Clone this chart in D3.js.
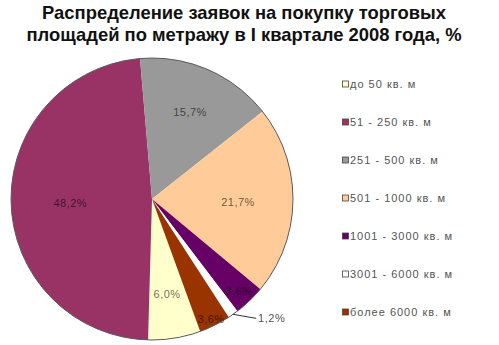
<!DOCTYPE html>
<html>
<head>
<meta charset="utf-8">
<script src="https://cdn.jsdelivr.net/npm/d3@7/dist/d3.min.js"></script>
<style>
  html, body { margin: 0; padding: 0; background: #fff; }
  svg { display: block; }
</style>
</head>
<body>
<svg id="chart" width="499" height="345"></svg>
<script>
// Request shares by floor area, Q1 2008
const categories = [
  "до 50 кв. м",
  "51 - 250 кв. м",
  "251 - 500 кв. м",
  "501 - 1000 кв. м",
  "1001 - 3000 кв. м",
  "3001 - 6000 кв. м",
  "более 6000 кв. м"
];
const shares = [6.0, 48.2, 15.7, 21.7, 3.6, 1.2, 3.6];
const colors = ["#FFFFCC", "#993366", "#999999", "#FFCC99", "#660066", "#FFFFFF", "#993300"];
const titleLines = [
  "Распределение заявок на покупку торговых",
  "площадей по метражу в I квартале 2008 года, %"
];

const svg = d3.select("#chart");
const fmt = v => v.toFixed(1).replace(".", ",") + "%";
const FONT = "Liberation Sans, Arial, sans-serif";

// Title
svg.append("g").selectAll("text")
  .data(titleLines)
  .join("text")
  .attr("x", 244)
  .attr("y", (d, i) => 19 + i * 22)
  .attr("text-anchor", "middle")
  .attr("font-family", FONT)
  .attr("font-weight", "bold")
  .attr("font-size", 18.4)
  .attr("fill", "#111")
  .text(d => d);

// Pie
const cx = 152, cy = 199, r = 141;
const startAngle = 160 * Math.PI / 180;
const pie = d3.pie()
  .sort(null)
  .value(d => d)
  .startAngle(startAngle)
  .endAngle(startAngle + 2 * Math.PI);
const arcs = pie(shares);
const arc = d3.arc().innerRadius(0).outerRadius(r);

const g = svg.append("g").attr("transform", `translate(${cx},${cy})`);
g.selectAll("path.slice")
  .data(arcs)
  .join("path")
  .attr("class", "slice")
  .attr("d", arc)
  .attr("fill", (d, i) => colors[i]);

g.append("circle")
  .attr("r", r)
  .attr("fill", "none")
  .attr("stroke", "#5a5a5a")
  .attr("stroke-width", 1);

// Radial placement of each value label, as a fraction of the radius
const labelRadius = [0.67, 0.58, 0.68, 0.61, 0.89, 1.0, 0.94];

const insideArcs = arcs.filter(d => d.value >= 2);
g.selectAll("text.val")
  .data(insideArcs)
  .join("text")
  .attr("class", "val")
  .attr("transform", d => {
    const a = (d.startAngle + d.endAngle) / 2;
    const lr = labelRadius[d.index] * r;
    return `translate(${Math.sin(a) * lr},${-Math.cos(a) * lr})`;
  })
  .attr("text-anchor", "middle")
  .attr("dy", "0.5em")
  .attr("font-family", FONT)
  .attr("font-size", 11)
  .attr("letter-spacing", 0.5)
  .attr("fill", "#000")
  .attr("fill-opacity", 0.6)
  .text(d => fmt(d.value));

const outsideArcs = arcs.filter(d => d.value < 2);
outsideArcs.forEach(d => {
  const a = (d.startAngle + d.endAngle) / 2;
  const x0 = Math.sin(a) * r, y0 = -Math.cos(a) * r;
  const x1 = x0 + 23, y1 = y0 + 4;
  g.append("path")
    .attr("d", `M${x0},${y0}L${x1},${y1}`)
    .attr("stroke", "#333")
    .attr("stroke-width", 1)
    .attr("fill", "none");
  g.append("text")
    .attr("x", x1 + 2)
    .attr("y", y1)
    .attr("dy", "0.35em")
    .attr("font-family", FONT)
    .attr("font-size", 11)
    .attr("letter-spacing", 0.5)
    .attr("fill", "#555")
    .text(fmt(d.value));
});

// Legend
const legendY = d3.scalePoint().domain(categories).range([84, 312]);
const lg = svg.append("g").selectAll("g")
  .data(categories)
  .join("g")
  .attr("transform", d => `translate(342.5,${legendY(d)})`);
lg.append("rect")
  .attr("x", 0).attr("y", -3)
  .attr("width", 6).attr("height", 6)
  .attr("fill", (d, i) => colors[i])
  .attr("stroke", "#444")
  .attr("stroke-width", 0.8);
lg.append("text")
  .attr("x", 7.5)
  .attr("dy", "0.35em")
  .attr("font-family", FONT)
  .attr("font-size", 11)
  .attr("letter-spacing", 1.0)
  .attr("fill", "#555")
  .text(d => d);
</script>
</body>
</html>
